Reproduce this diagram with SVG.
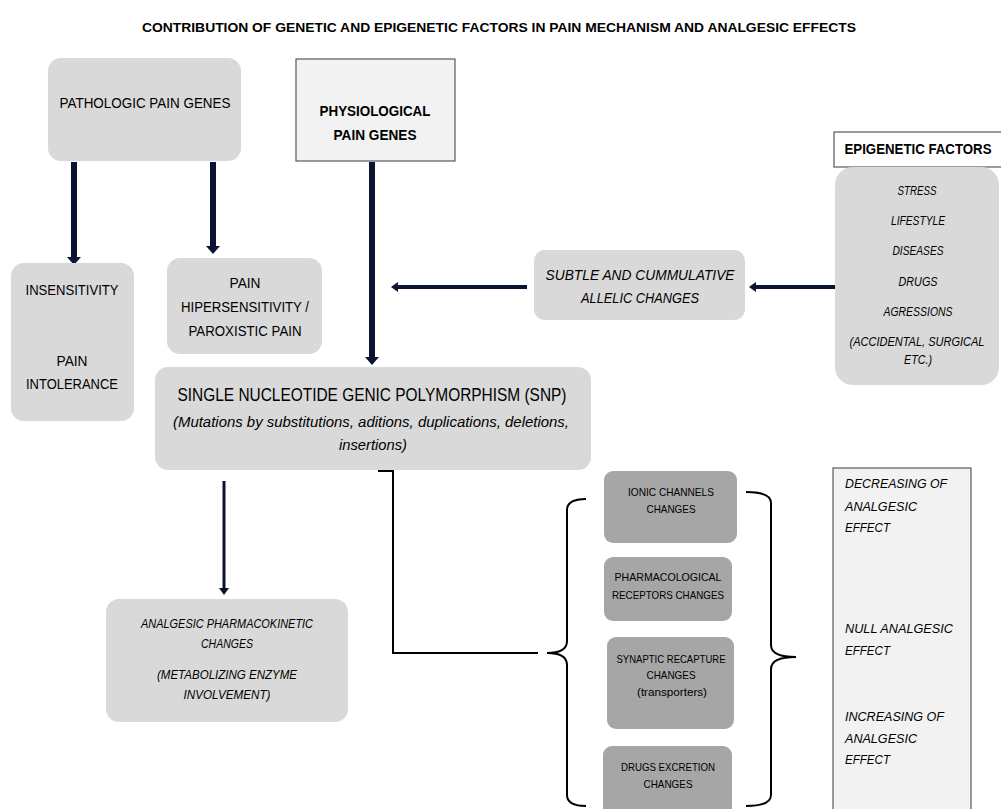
<svg xmlns="http://www.w3.org/2000/svg" width="1001" height="809" viewBox="0 0 1001 809">
<style>
text{font-family:"Liberation Sans",Arial,sans-serif;fill:#000;text-anchor:middle}
.b{font-weight:bold}
.i{font-style:italic}
.g{fill:#d9d9d9}
.d{fill:#a6a6a6}
.l{fill:#f2f2f2;stroke:#595959;stroke-width:1.2}
.w{fill:#fff;stroke:#595959;stroke-width:1.2}
.arr{stroke:#0a1430;fill:none}
.thin{stroke:#000;stroke-width:2;fill:none}
.s13{font-size:14px}
.s11{font-size:12px}
.s10{font-size:11px}
.s12{font-size:13px}
.lt{text-anchor:start}
</style>
<defs>
<marker id="hd" markerUnits="userSpaceOnUse" markerWidth="20" markerHeight="20" refX="0" refY="7" orient="auto" overflow="visible">
<path d="M0,0 L8,7 L0,14 z" fill="#0a1430"/>
</marker>
<marker id="hs" markerUnits="userSpaceOnUse" markerWidth="20" markerHeight="20" refX="0" refY="5" orient="auto" overflow="visible">
<path d="M0,0 L7,5 L0,10 z" fill="#0a1430"/>
</marker>
</defs>
<rect width="1001" height="809" fill="#fff"/>
<text x="499" y="32" class="b" font-size="12.5" textLength="714" lengthAdjust="spacingAndGlyphs">CONTRIBUTION OF GENETIC AND EPIGENETIC FACTORS IN PAIN MECHANISM AND ANALGESIC EFFECTS</text>

<g id="connectors">
<line class="arr" x1="74" y1="162" x2="74" y2="257" stroke-width="6" marker-end="url(#hd)"/>
<line class="arr" x1="213" y1="162" x2="213" y2="246" stroke-width="6" marker-end="url(#hd)"/>
<line class="arr" x1="372" y1="162" x2="372" y2="357" stroke-width="6" marker-end="url(#hd)"/>
<line class="arr" x1="527" y1="287" x2="398" y2="287" stroke-width="4" marker-end="url(#hs)"/>
<line class="arr" x1="838" y1="287" x2="756" y2="287" stroke-width="4" marker-end="url(#hs)"/>
<line class="arr" x1="224" y1="481" x2="224" y2="588" stroke-width="3" marker-end="url(#hs)"/>
<path class="thin" d="M378,471 L393,471 L393,653 L538,653"/>
<path class="thin" d="M586,499 Q567,499 567,510 L567,641 Q567,653 547,653 Q567,653 567,665 L567,795 Q567,806 586,806"/>
<path class="thin" d="M746,492 Q771,492 771,503 L771,645 Q771,657 796,657 Q771,657 771,669 L771,795 Q771,806 746,806"/>
</g>

<g id="pathologic">
<rect class="g" x="48" y="58" width="193" height="103" rx="13"/>
<text x="145" y="108" class="s13" textLength="171" lengthAdjust="spacingAndGlyphs">PATHOLOGIC PAIN GENES</text>
</g>
<g id="physiological">
<rect class="l" x="296" y="59" width="159" height="102"/>
<text x="375" y="116" class="s13 b" textLength="111" lengthAdjust="spacingAndGlyphs">PHYSIOLOGICAL</text>
<text x="375" y="140" class="s13 b" textLength="83" lengthAdjust="spacingAndGlyphs">PAIN GENES</text>
</g>
<g id="insensitivity">
<rect class="g" x="11" y="263" width="123" height="158" rx="13"/>
<text x="72" y="295" class="s13" textLength="93" lengthAdjust="spacingAndGlyphs">INSENSITIVITY</text>
<text x="72" y="366" class="s13" textLength="31" lengthAdjust="spacingAndGlyphs">PAIN</text>
<text x="72" y="389" class="s13" textLength="92" lengthAdjust="spacingAndGlyphs">INTOLERANCE</text>
</g>
<g id="hipersensitivity">
<rect class="g" x="167" y="258" width="155" height="96" rx="13"/>
<text x="245" y="288" class="s13" textLength="31" lengthAdjust="spacingAndGlyphs">PAIN</text>
<text x="245" y="312" class="s13" textLength="128" lengthAdjust="spacingAndGlyphs">HIPERSENSITIVITY /</text>
<text x="245" y="336" class="s13" textLength="113" lengthAdjust="spacingAndGlyphs">PAROXISTIC PAIN</text>
</g>
<g id="snp">
<rect class="g" x="155" y="367" width="436" height="103" rx="13"/>
<text x="372" y="401" font-size="18" textLength="389" lengthAdjust="spacingAndGlyphs">SINGLE NUCLEOTIDE GENIC POLYMORPHISM (SNP)</text>
<text x="371" y="427" class="i" font-size="15" textLength="396" lengthAdjust="spacingAndGlyphs">(Mutations by substitutions, aditions, duplications, deletions,</text>
<text x="373" y="450" class="i" font-size="15" textLength="68" lengthAdjust="spacingAndGlyphs">insertions)</text>
</g>
<g id="subtle">
<rect class="g" x="534" y="250" width="211" height="70" rx="11"/>
<text x="640" y="280" class="i s13" textLength="189" lengthAdjust="spacingAndGlyphs">SUBTLE AND CUMMULATIVE</text>
<text x="640" y="303" class="i s13" textLength="118" lengthAdjust="spacingAndGlyphs">ALLELIC CHANGES</text>
</g>
<g id="epigenetic-label">
<rect class="w" x="834" y="132" width="175" height="35"/>
<text x="918" y="154" class="b s13" textLength="147" lengthAdjust="spacingAndGlyphs">EPIGENETIC FACTORS</text>
</g>
<g id="epigenetic-factors">
<rect class="g" x="835" y="167" width="164" height="218" rx="18"/>
<text x="917" y="195" class="i s11" textLength="39" lengthAdjust="spacingAndGlyphs">STRESS</text>
<text x="918" y="225" class="i s11" textLength="54" lengthAdjust="spacingAndGlyphs">LIFESTYLE</text>
<text x="918" y="255" class="i s11" textLength="51" lengthAdjust="spacingAndGlyphs">DISEASES</text>
<text x="918" y="286" class="i s11" textLength="39" lengthAdjust="spacingAndGlyphs">DRUGS</text>
<text x="918" y="316" class="i s11" textLength="69" lengthAdjust="spacingAndGlyphs">AGRESSIONS</text>
<text x="917" y="346" class="i s11" textLength="135" lengthAdjust="spacingAndGlyphs">(ACCIDENTAL, SURGICAL</text>
<text x="918" y="364" class="i s11" textLength="28" lengthAdjust="spacingAndGlyphs">ETC.)</text>
</g>
<g id="pharmacokinetic">
<rect class="g" x="106" y="599" width="242" height="123" rx="13"/>
<text x="227" y="628" class="i s11" textLength="172" lengthAdjust="spacingAndGlyphs">ANALGESIC PHARMACOKINETIC</text>
<text x="227" y="648" class="i s11" textLength="52" lengthAdjust="spacingAndGlyphs">CHANGES</text>
<text x="227" y="679" class="i s11" textLength="140" lengthAdjust="spacingAndGlyphs">(METABOLIZING ENZYME</text>
<text x="227" y="699" class="i s11" textLength="87" lengthAdjust="spacingAndGlyphs">INVOLVEMENT)</text>
</g>
<g id="ionic">
<rect class="d" x="604" y="471" width="133" height="72" rx="9"/>
<text x="671" y="496" class="s10" textLength="86" lengthAdjust="spacingAndGlyphs">IONIC CHANNELS</text>
<text x="671" y="513" class="s10" textLength="49" lengthAdjust="spacingAndGlyphs">CHANGES</text>
</g>
<g id="pharmacological">
<rect class="d" x="604" y="557" width="128" height="64" rx="9"/>
<text x="668" y="581" class="s10" textLength="107" lengthAdjust="spacingAndGlyphs">PHARMACOLOGICAL</text>
<text x="668" y="599" class="s10" textLength="112" lengthAdjust="spacingAndGlyphs">RECEPTORS CHANGES</text>
</g>
<g id="synaptic">
<rect class="d" x="607" y="637" width="127" height="92" rx="9"/>
<text x="671" y="663" class="s10" textLength="109" lengthAdjust="spacingAndGlyphs">SYNAPTIC RECAPTURE</text>
<text x="671" y="679" class="s10" textLength="49" lengthAdjust="spacingAndGlyphs">CHANGES</text>
<text x="672" y="696" class="s10" textLength="70" lengthAdjust="spacingAndGlyphs">(transporters)</text>
</g>
<g id="excretion">
<rect class="d" x="603" y="746" width="129" height="75" rx="9"/>
<text x="668" y="771" class="s10" textLength="94" lengthAdjust="spacingAndGlyphs">DRUGS EXCRETION</text>
<text x="668" y="788" class="s10" textLength="49" lengthAdjust="spacingAndGlyphs">CHANGES</text>
</g>
<g id="effects">
<rect class="l" x="833" y="468" width="138" height="350"/>
<text x="845" y="488" class="i s12 lt" textLength="102" lengthAdjust="spacingAndGlyphs">DECREASING OF</text>
<text x="845" y="511" class="i s12 lt" textLength="72" lengthAdjust="spacingAndGlyphs">ANALGESIC</text>
<text x="845" y="532" class="i s12 lt" textLength="45" lengthAdjust="spacingAndGlyphs">EFFECT</text>
<text x="845" y="633" class="i s12 lt" textLength="108" lengthAdjust="spacingAndGlyphs">NULL ANALGESIC</text>
<text x="845" y="655" class="i s12 lt" textLength="45" lengthAdjust="spacingAndGlyphs">EFFECT</text>
<text x="845" y="721" class="i s12 lt" textLength="99" lengthAdjust="spacingAndGlyphs">INCREASING OF</text>
<text x="845" y="743" class="i s12 lt" textLength="72" lengthAdjust="spacingAndGlyphs">ANALGESIC</text>
<text x="845" y="764" class="i s12 lt" textLength="45" lengthAdjust="spacingAndGlyphs">EFFECT</text>
</g>
</svg>
